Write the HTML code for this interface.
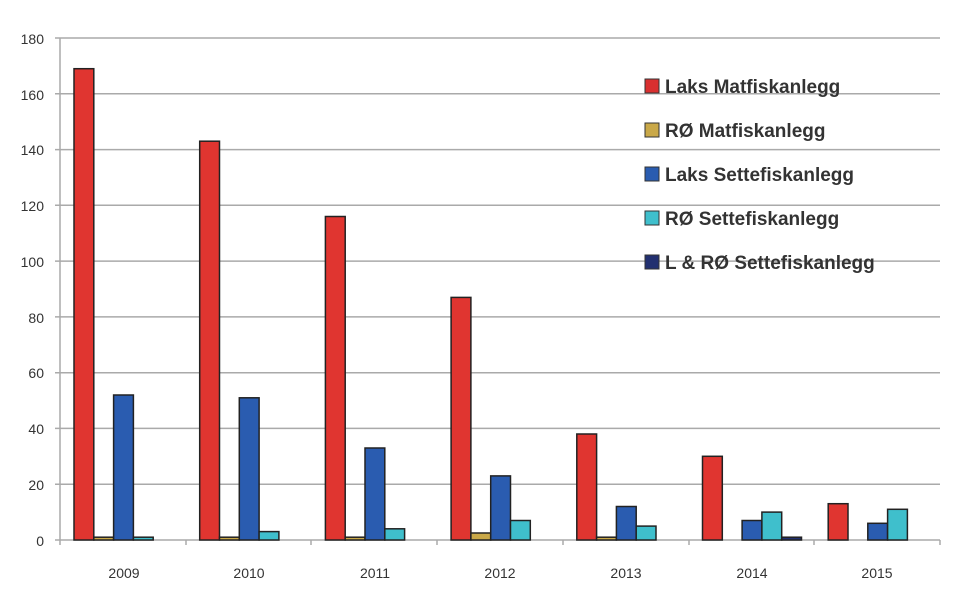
<!DOCTYPE html>
<html><head><meta charset="utf-8"><style>body{margin:0;background:#fff}</style></head><body>
<svg width="960" height="606" xmlns="http://www.w3.org/2000/svg" font-family="Liberation Sans, sans-serif">
<rect width="960" height="606" fill="#fff"/>
<g stroke="#aaa" stroke-width="1.5">
<line x1="55" y1="38" x2="940" y2="38"/><line x1="55" y1="93.8" x2="940" y2="93.8"/>
<line x1="55" y1="149.6" x2="940" y2="149.6"/><line x1="55" y1="205.3" x2="940" y2="205.3"/>
<line x1="55" y1="261.1" x2="940" y2="261.1"/><line x1="55" y1="316.9" x2="940" y2="316.9"/>
<line x1="55" y1="372.7" x2="940" y2="372.7"/><line x1="55" y1="428.4" x2="940" y2="428.4"/>
<line x1="55" y1="484.2" x2="940" y2="484.2"/><line x1="55" y1="540" x2="940" y2="540"/>
<line x1="60" y1="38" x2="60" y2="545"/>
<line x1="186" y1="540" x2="186" y2="545"/><line x1="311" y1="540" x2="311" y2="545"/>
<line x1="437" y1="540" x2="437" y2="545"/><line x1="563" y1="540" x2="563" y2="545"/>
<line x1="689" y1="540" x2="689" y2="545"/><line x1="814" y1="540" x2="814" y2="545"/>
<line x1="940" y1="540" x2="940" y2="545"/>
</g>
<g font-size="14" fill="#333" text-anchor="end">
<text x="44" y="44">180</text><text x="44" y="100">160</text><text x="44" y="155">140</text>
<text x="44" y="211">120</text><text x="44" y="267">100</text><text x="44" y="323">80</text>
<text x="44" y="378">60</text><text x="44" y="434">40</text><text x="44" y="490">20</text><text x="44" y="546">0</text>
</g>
<g font-size="14" fill="#333" text-anchor="middle">
<text x="124" y="578">2009</text><text x="249" y="578">2010</text><text x="375" y="578">2011</text>
<text x="500" y="578">2012</text><text x="626" y="578">2013</text><text x="752" y="578">2014</text><text x="877" y="578">2015</text>
</g>
<g stroke="#222" stroke-width="1.5">
<rect x="74" y="68.7" width="19.8" height="471.3" fill="#e03530"/>
<rect x="93.8" y="537.2" width="19.8" height="2.8" fill="#c9a848"/>
<rect x="113.6" y="395" width="19.8" height="145" fill="#2a5cb0"/>
<rect x="133.4" y="537.2" width="19.8" height="2.8" fill="#3fbfcc"/>

<rect x="199.7" y="141.2" width="19.8" height="398.8" fill="#e03530"/>
<rect x="219.5" y="537.2" width="19.8" height="2.8" fill="#c9a848"/>
<rect x="239.3" y="397.8" width="19.8" height="142.2" fill="#2a5cb0"/>
<rect x="259.1" y="531.6" width="19.8" height="8.4" fill="#3fbfcc"/>

<rect x="325.4" y="216.5" width="19.8" height="323.5" fill="#e03530"/>
<rect x="345.2" y="537.2" width="19.8" height="2.8" fill="#c9a848"/>
<rect x="365" y="448" width="19.8" height="92" fill="#2a5cb0"/>
<rect x="384.8" y="528.8" width="19.8" height="11.2" fill="#3fbfcc"/>

<rect x="451.1" y="297.4" width="19.8" height="242.6" fill="#e03530"/>
<rect x="470.9" y="533" width="19.8" height="7" fill="#c9a848"/>
<rect x="490.7" y="475.9" width="19.8" height="64.1" fill="#2a5cb0"/>
<rect x="510.5" y="520.5" width="19.8" height="19.5" fill="#3fbfcc"/>

<rect x="576.8" y="434" width="19.8" height="106" fill="#e03530"/>
<rect x="596.6" y="537.2" width="19.8" height="2.8" fill="#c9a848"/>
<rect x="616.4" y="506.5" width="19.8" height="33.5" fill="#2a5cb0"/>
<rect x="636.2" y="526.1" width="19.8" height="13.9" fill="#3fbfcc"/>

<rect x="702.5" y="456.3" width="19.8" height="83.7" fill="#e03530"/>
<rect x="742.1" y="520.5" width="19.8" height="19.5" fill="#2a5cb0"/>
<rect x="761.9" y="512.1" width="19.8" height="27.9" fill="#3fbfcc"/>
<rect x="781.7" y="537.2" width="19.8" height="2.8" fill="#223070"/>

<rect x="828.2" y="503.7" width="19.8" height="36.3" fill="#e03530"/>
<rect x="867.8" y="523.3" width="19.8" height="16.7" fill="#2a5cb0"/>
<rect x="887.6" y="509.3" width="19.8" height="30.7" fill="#3fbfcc"/>
</g>
<g font-size="19" font-weight="bold" fill="#333">
<rect x="645" y="79" width="14" height="14" fill="#d93030" stroke="#333"/><text x="665" y="93">Laks Matfiskanlegg</text>
<rect x="645" y="123" width="14" height="14" fill="#c9a848" stroke="#333"/><text x="665" y="137">RØ Matfiskanlegg</text>
<rect x="645" y="167" width="14" height="14" fill="#2a5cb0" stroke="#333"/><text x="665" y="181">Laks Settefiskanlegg</text>
<rect x="645" y="211" width="14" height="14" fill="#3fbfcc" stroke="#333"/><text x="665" y="225">RØ Settefiskanlegg</text>
<rect x="645" y="255" width="14" height="14" fill="#223070" stroke="#333"/><text x="665" y="269">L &amp; RØ Settefiskanlegg</text>
</g>
</svg>
</body></html>
